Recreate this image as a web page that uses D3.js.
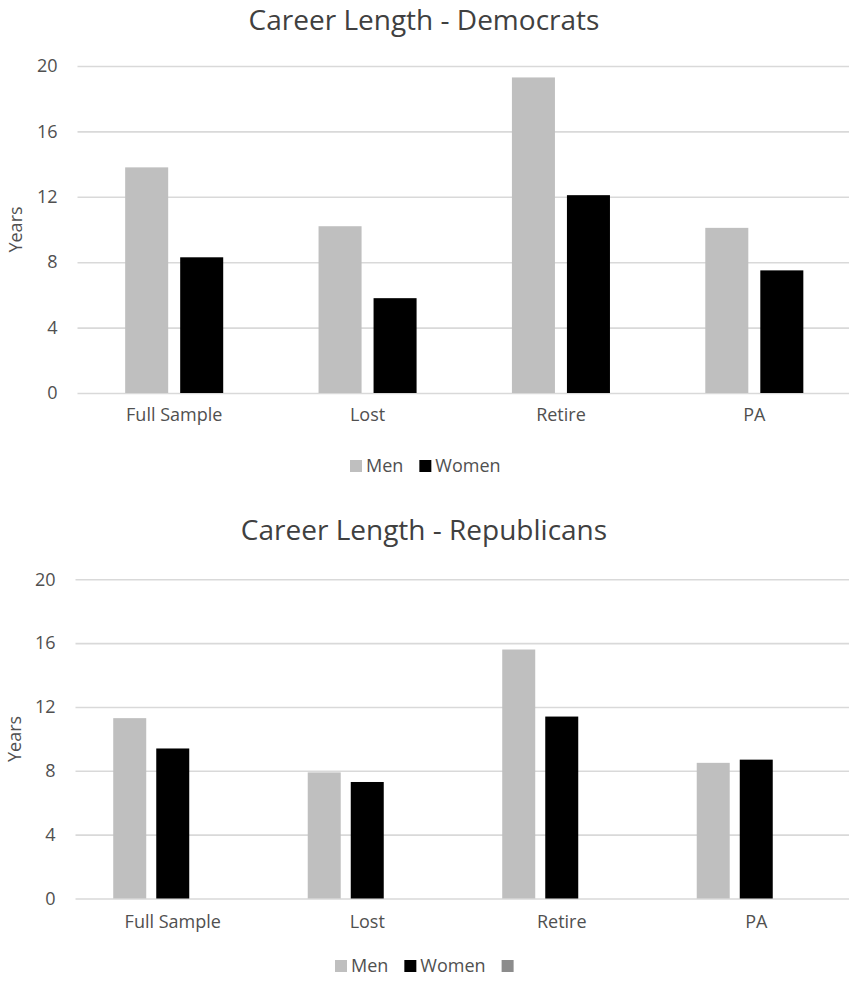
<!DOCTYPE html>
<html>
<head>
<meta charset="utf-8">
<script src="https://cdn.jsdelivr.net/npm/d3@7"></script>
<style>
  html, body { margin: 0; padding: 0; background: #fff; }
  svg { display: block; font-family: "Open Sans", "Noto Sans", sans-serif; }
</style>
</head>
<body>
<svg id="chart" width="849" height="982"></svg>
<script>
// Career length (years) by exit type
const categories = ["Full Sample", "Lost", "Retire", "PA"];
const demMen = [13.8, 10.2, 19.3, 10.1];
const demWomen = [8.3, 5.8, 12.1, 7.5];
const repMen = [11.3, 7.9, 15.6, 8.5];
const repWomen = [9.4, 7.3, 11.4, 8.7];
const repExtra = [null, null, null, null]; // third legend entry, no values
const yTicks = [0, 4, 8, 12, 16, 20];
const seriesDem = ["Men", "Women"];
const seriesRep = ["Men", "Women", ""];
const colors = { "Men": "#bfbfbf", "Women": "#000000", "": "#8c8c8c" };

const textColor = "#505050";
const svg = d3.select("#chart");

function panel(opts) {
  const g = svg.append("g");
  const y = d3.scaleLinear().domain([0, 20]).range([opts.y0, opts.y20]);
  const x0 = d3.scaleBand().domain(categories)
    .range([opts.left, opts.right])
    .paddingInner(opts.groupPad).paddingOuter(opts.groupPad / 2);
  const x1 = d3.scaleBand().domain(opts.series)
    .range([0, x0.bandwidth()])
    .paddingInner(opts.barPad).paddingOuter(0);

  // title
  g.append("text")
    .attr("x", 424).attr("y", opts.titleY)
    .attr("text-anchor", "middle")
    .attr("font-size", 28).attr("fill", "#404040")
    .text(opts.title);

  // gridlines + y tick labels
  const yAxis = d3.axisLeft(y).tickValues(yTicks).tickSize(-(849 - opts.left)).tickPadding(0);
  const ya = g.append("g").attr("transform", `translate(${opts.left},0)`).call(yAxis);
  ya.select(".domain").remove();
  ya.selectAll(".tick line").attr("stroke", "#d9d9d9").attr("stroke-width", 1.6);
  ya.selectAll(".tick text")
    .attr("x", -opts.tickGap).attr("font-size", 18).attr("fill", textColor)
    .attr("font-family", "Open Sans, sans-serif");

  // axis title
  g.append("text")
    .attr("transform", `translate(${opts.yTitleX},${(opts.y0 + opts.y20) / 2}) rotate(-90)`)
    .attr("text-anchor", "middle").attr("dy", "0.35em")
    .attr("font-size", 18).attr("fill", textColor)
    .text("Years");

  // bars
  const groups = g.append("g").selectAll("g").data(categories).join("g")
    .attr("transform", d => `translate(${x0(d)},0)`);
  opts.series.forEach((s, si) => {
    const vals = opts.values[si];
    groups.filter((d, i) => vals[i] != null)
      .append("rect")
      .attr("x", x1(s))
      .attr("width", x1.bandwidth())
      .attr("y", (d) => y(vals[categories.indexOf(d)]))
      .attr("height", (d) => opts.y0 - y(vals[categories.indexOf(d)]))
      .attr("fill", colors[s]);
  });

  // category labels
  const xa = g.append("g").attr("transform", `translate(0,${opts.y0})`)
    .call(d3.axisBottom(x0).tickSize(0).tickPadding(opts.labelPad));
  xa.select(".domain").remove();
  xa.selectAll(".tick text").attr("font-size", 18).attr("fill", textColor)
    .attr("font-family", "Open Sans, sans-serif");

  // legend
  const lg = g.append("g").attr("transform", `translate(0,${opts.legendY})`);
  let lx = opts.legendX;
  opts.series.forEach(s => {
    lg.append("rect").attr("x", lx).attr("y", -6).attr("width", 12).attr("height", 12)
      .attr("fill", colors[s]);
    lx += 16;
    if (s) {
      const t = lg.append("text").attr("x", lx).attr("dy", "0.35em")
        .attr("font-size", 18).attr("fill", textColor).text(s);
      lx += t.node().getComputedTextLength() + 16;
    }
  });
}

panel({
  title: "Career Length - Democrats", titleY: 30,
  y0: 393, y20: 66, left: 77.5, right: 851,
  groupPad: 0.493, barPad: 0.218,
  series: seriesDem, values: [demMen, demWomen],
  tickGap: 20, yTitleX: 16, labelPad: 15, legendY: 466, legendX: 350
});

panel({
  title: "Career Length - Republicans", titleY: 540,
  y0: 898.5, y20: 579.3, left: 75.5, right: 853.5,
  groupPad: 0.388, barPad: 0.233,
  series: seriesRep, values: [repMen, repWomen, repExtra],
  tickGap: 20, yTitleX: 15, labelPad: 17, legendY: 966, legendX: 335
});
</script>
</body>
</html>
